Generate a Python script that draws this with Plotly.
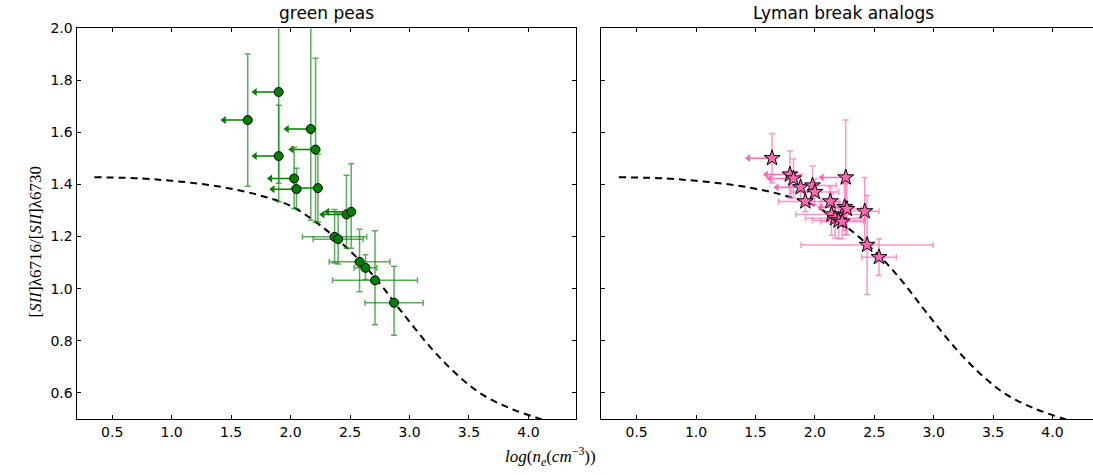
import plotly.graph_objects as go

# --- theoretical [SII] ratio vs. electron density (dashed curve) ---
curve_logn = [0.35, 0.75, 1.0, 1.25, 1.5, 1.75, 2.0, 2.27, 2.55, 2.75, 2.94, 3.19, 3.4, 3.61, 3.85, 4.1, 4.2]
curve_ratio = [1.428, 1.423, 1.414, 1.402, 1.384, 1.357, 1.318, 1.236, 1.123, 1.02, 0.908, 0.768, 0.67, 0.594, 0.54, 0.50, 0.485]

# --- green peas ---
gp_logn = [1.90, 1.64, 1.90, 2.17, 2.21, 2.03, 2.05, 2.23, 2.47, 2.51, 2.37, 2.40, 2.58, 2.63, 2.71, 2.87]
gp_ratio = [1.755, 1.647, 1.509, 1.613, 1.534, 1.423, 1.382, 1.386, 1.285, 1.295, 1.199, 1.19, 1.103, 1.08, 1.032, 0.946]
gp_ratio_err_hi = [0.35, 0.254, 0.195, 0.40, 0.35, 0.12, 0.08, 0.13, 0.15, 0.185, 0.105, 0.10, 0.125, 0.05, 0.19, 0.14]
gp_ratio_err_lo = [0.35, 0.254, 0.175, 0.35, 0.28, 0.115, 0.075, 0.13, 0.13, 0.14, 0.10, 0.095, 0.115, 0.045, 0.17, 0.125]
gp_logn_err = [0.2, 0.2, 0.2, 0.2, 0.2, 0.2, 0.2, 0.2, 0.2, 0.2, 0.27, 0.21, 0.255, 0.095, 0.357, 0.245]
gp_upper_limit = [True, True, True, True, True, True, True, True, True, True,
                  False, False, False, False, False, False]

# --- Lyman break analogs ---
lba_logn = [1.64, 1.79, 1.82, 1.88, 1.98, 2.00, 2.26, 1.92, 2.13, 2.25, 2.27, 2.42, 2.14, 2.17, 2.20, 2.23, 2.44, 2.54]
lba_ratio = [1.501, 1.438, 1.423, 1.389, 1.396, 1.371, 1.427, 1.335, 1.335, 1.313, 1.306, 1.297, 1.285, 1.27, 1.262, 1.257, 1.168, 1.121]
lba_ratio_err = [0.095, 0.09, 0.075, 0.05, 0.075, 0.05, 0.22, 0.04, 0.055, 0.09, 0.10, 0.13, 0.08, 0.075, 0.07, 0.065, 0.19, 0.07]
lba_logn_err = [0.2, 0.2, 0.2, 0.2, 0.2, 0.2, 0.2, 0.225, 0.08, 0.2, 0.12, 0.12, 0.3, 0.25, 0.22, 0.18, 0.556, 0.145]
lba_upper_limit = [True, True, True, True, False, False, True, False, False, True,
                   False, False, False, False, False, False, False, False]

x_ticks = [0.5, 1.0, 1.5, 2.0, 2.5, 3.0, 3.5, 4.0]
y_ticks = [0.6, 0.8, 1.0, 1.2, 1.4, 1.6, 1.8, 2.0]

GREEN = "#008000"
GREEN_ERR = "rgba(0,128,0,0.65)"
PINK = "#ff69b4"
PINK_ERR = "rgba(255,105,180,0.7)"

fig = go.Figure()

for xa, ya in (("x", "y"), ("x2", "y2")):
    fig.add_trace(go.Scatter(
        x=curve_logn, y=curve_ratio, xaxis=xa, yaxis=ya, mode="lines",
        line=dict(color="black", width=2, dash="7px,5px", shape="spline"),
        hoverinfo="skip", showlegend=False))


def limit_arrows(xs, ys, errs, lims, xa, ya, col):
    """Leftward arrows for density upper limits: shaft plus arrowhead."""
    sx, sy, hx, hy = [], [], [], []
    for xv, yv, ev, lim in zip(xs, ys, errs, lims):
        if not lim:
            continue
        sx += [xv, xv - ev, None]
        sy += [yv, yv, None]
        hx.append(xv - ev)
        hy.append(yv)
    fig.add_trace(go.Scatter(x=sx, y=sy, xaxis=xa, yaxis=ya, mode="lines",
                             line=dict(color=col, width=1.5), hoverinfo="skip",
                             showlegend=False))
    fig.add_trace(go.Scatter(x=hx, y=hy, xaxis=xa, yaxis=ya, mode="markers",
                             marker=dict(symbol="triangle-left", size=7, color=col,
                                         line=dict(width=0)),
                             hoverinfo="skip", showlegend=False))


limit_arrows(gp_logn, gp_ratio, gp_logn_err, gp_upper_limit, "x", "y", GREEN)
limit_arrows(lba_logn, lba_ratio, lba_logn_err, lba_upper_limit, "x2", "y2", PINK)

# horizontal error bars only where the density is measured
gp_xerr_plot = [0 if lim else e for e, lim in zip(gp_logn_err, gp_upper_limit)]
fig.add_trace(go.Scatter(
    x=gp_logn, y=gp_ratio, xaxis="x", yaxis="y", mode="markers",
    marker=dict(symbol="circle", size=9, color=GREEN, line=dict(color="black", width=1)),
    error_y=dict(type="data", array=gp_ratio_err_hi, arrayminus=gp_ratio_err_lo,
                 symmetric=False, color=GREEN_ERR, thickness=1.5, width=3),
    error_x=dict(type="data", array=gp_xerr_plot, color=GREEN_ERR, thickness=1.5, width=3),
    showlegend=False))

lba_xerr_plot = [0 if lim else e for e, lim in zip(lba_logn_err, lba_upper_limit)]
fig.add_trace(go.Scatter(
    x=lba_logn, y=lba_ratio, xaxis="x2", yaxis="y2", mode="markers",
    marker=dict(symbol="star", size=12, color=PINK, line=dict(color="black", width=1)),
    error_y=dict(type="data", array=lba_ratio_err, color=PINK_ERR, thickness=1.5, width=3),
    error_x=dict(type="data", array=lba_xerr_plot, color=PINK_ERR, thickness=1.5, width=3),
    showlegend=False))

title_font = dict(family="DejaVu Sans", size=17, color="black")
label_font = dict(family="Liberation Serif", size=17, color="black")
annotations = [
    dict(text="green peas", x=0.5, y=1, xref="x domain", yref="y domain",
         xanchor="center", yanchor="bottom", yshift=3, showarrow=False, font=title_font),
    dict(text="Lyman break analogs", x=0.5, y=1, xref="x2 domain", yref="y2 domain",
         xanchor="center", yanchor="bottom", yshift=3, xshift=-4, showarrow=False,
         font=title_font),
    dict(text="[<i>SII</i>]λ6716/[<i>SII</i>]λ6730", x=35 / 1093, y=0.5,
         xref="paper", yref="paper", textangle=-90, showarrow=False,
         xanchor="center", yanchor="middle", font=label_font),
    dict(text="<i>log</i>(<i>n<sub>e</sub></i>(<i>cm</i><sup>−3</sup>))", x=0.504, y=0,
         xref="paper", yref="paper", xanchor="center", yanchor="bottom", yshift=4,
         showarrow=False, font=label_font),
]

tick_font = dict(family="DejaVu Sans", size=14, color="black")
axis_common = dict(showline=True, linecolor="black", linewidth=1, ticks="inside",
                   ticklen=4, tickwidth=1, tickcolor="black", showgrid=False,
                   zeroline=False, tickfont=tick_font)
plot_bottom, plot_top = 1 - 418 / 475, 1 - 20.5 / 475

fig.update_layout(
    width=1093, height=475, margin=dict(l=0, r=0, t=0, b=0),
    paper_bgcolor="white", plot_bgcolor="white",
    xaxis=dict(domain=[76.5 / 1093, 576 / 1093], range=[0.2, 4.4], tickvals=x_ticks,
               ticktext=[f"{v:.1f}" for v in x_ticks], mirror="ticks", **axis_common),
    yaxis=dict(domain=[plot_bottom, plot_top], range=[0.5, 2.0], tickvals=y_ticks,
               ticktext=[f"{v:.1f}" for v in y_ticks], mirror="ticks", **axis_common),
    xaxis2=dict(domain=[601 / 1093, 1.0], range=[0.2, 4.341], tickvals=x_ticks,
                ticktext=[f"{v:.1f}" for v in x_ticks], mirror="ticks", anchor="y2",
                **axis_common),
    yaxis2=dict(domain=[plot_bottom, plot_top], range=[0.5, 2.0], tickvals=y_ticks,
                showticklabels=False, mirror=False, anchor="x2", **axis_common),
    annotations=annotations,
)

fig.write_html("out.html")
